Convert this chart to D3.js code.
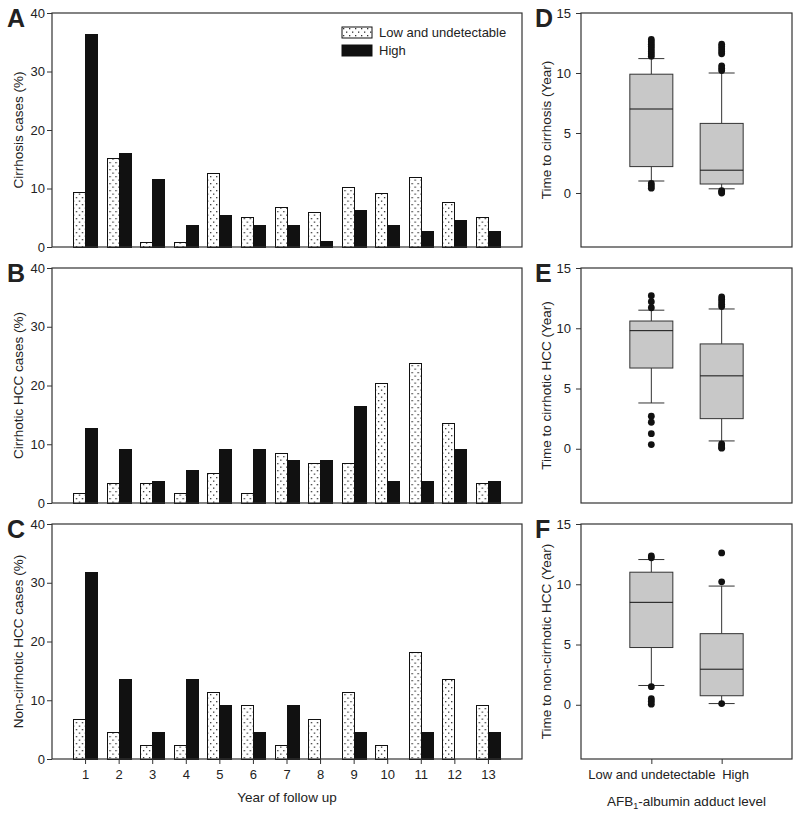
<!DOCTYPE html>
<html><head><meta charset="utf-8">
<script src="https://cdn.jsdelivr.net/npm/d3@7/dist/d3.min.js"></script>
<style>
body{margin:0;background:#fff}
text{font-family:"Liberation Sans",Arial,sans-serif;fill:#222}
</style></head>
<body><svg id="c" width="800" height="815"></svg>
<script>
// ---------- data ----------
const years = [1,2,3,4,5,6,7,8,9,10,11,12,13];
const seriesNames = ["Low and undetectable","High"];
const cirrhosisLow  = [9.3,15.1,0.8,0.8,12.6,5.0,6.7,5.9,10.1,9.2,11.8,7.6,5.0];
const cirrhosisHigh = [36.4,16.0,11.6,3.6,5.4,3.6,3.6,0.9,6.3,3.6,2.7,4.5,2.7];
const cirrHccLow    = [1.7,3.4,3.4,1.7,5.1,1.7,8.5,6.8,6.8,20.3,23.7,13.6,3.4];
const cirrHccHigh   = [12.7,9.1,3.6,5.5,9.1,9.1,7.3,7.3,16.4,3.6,3.6,9.1,3.6];
const nonCirrLow    = [6.8,4.5,2.3,2.3,11.4,9.1,2.3,6.8,11.4,2.3,18.2,13.6,9.1];
const nonCirrHigh   = [31.8,13.6,4.5,13.6,9.1,4.5,9.1,0,4.5,0,4.5,0,4.5];
const barTicks = [0,10,20,30,40];

const groups = ["Low and undetectable","High"];
// [lower whisker, Q1, median, Q3, upper whisker]
const boxCirrhosis = [[1.0,2.2,7.0,9.9,11.2],[0.35,0.75,1.9,5.8,10.0]];
const outCirrhosis = [[11.4,11.6,11.8,12.0,12.2,12.4,12.6,12.8,0.8,0.6,0.4],[10.2,10.4,10.6,11.6,11.8,12.0,12.2,12.4,0.2,0.1,0.0]];
const boxCirrHcc   = [[3.8,6.7,9.8,10.6,11.5],[0.65,2.5,6.05,8.7,11.6]];
const outCirrHcc   = [[11.7,12.2,12.7,2.7,2.2,1.25,0.35],[11.8,12.0,12.2,12.4,12.6,0.4,0.25,0.1,0.05]];
const boxNonCirr   = [[1.6,4.75,8.5,11.0,12.05],[0.1,0.75,2.95,5.9,9.85]];
const outNonCirr   = [[12.2,12.35,1.5,0.5,0.3,0.05],[12.6,10.2,0.1]];
const boxTicks = [0,5,10,15];

// ---------- drawing ----------
const svg = d3.select("#c");
const defs = svg.append("defs");
const pat = defs.append("pattern").attr("id","dots").attr("patternUnits","userSpaceOnUse")
  .attr("width",6).attr("height",7);
pat.append("rect").attr("width",6).attr("height",7).attr("fill","#fff");
pat.append("rect").attr("x",1).attr("y",1).attr("width",1.3).attr("height",1.3).attr("fill","#333");
pat.append("rect").attr("x",4).attr("y",4.5).attr("width",1.3).attr("height",1.3).attr("fill","#333");

const frameColor = "#333";
const barX0 = 52, barX1 = 522;
const x = d3.scaleBand().domain(years).range([barX0,barX1]).paddingInner(0).paddingOuter(0.5);
const sub = d3.scaleBand().domain(seriesNames).range([x.bandwidth()/2-12, x.bandwidth()/2+12]);

const barPanels = [
  {letter:"A", title:"Cirrhosis cases (%)", low:cirrhosisLow, high:cirrhosisHigh, top:13, bottom:247},
  {letter:"B", title:"Cirrhotic HCC cases (%)", low:cirrHccLow, high:cirrHccHigh, top:268, bottom:503},
  {letter:"C", title:"Non-cirrhotic HCC cases (%)", low:nonCirrLow, high:nonCirrHigh, top:524, bottom:759}
];

barPanels.forEach((p,i) => {
  const y = d3.scaleLinear().domain([0,40]).range([p.bottom,p.top]);
  const g = svg.append("g");
  const rows = years.map((yr,j) => ({yr, vals:[p.low[j], p.high[j]]}));
  const grp = g.selectAll("g.yr").data(rows).join("g").attr("transform", d => `translate(${x(d.yr)},0)`);
  grp.selectAll("rect").data(d => d.vals.map((v,k)=>({v, s:seriesNames[k]}))).join("rect")
    .attr("x", d => sub(d.s)).attr("width", sub.bandwidth())
    .attr("y", d => y(d.v)).attr("height", d => y(0)-y(d.v))
    .attr("fill", d => d.s===seriesNames[0] ? "url(#dots)" : "#111")
    .attr("stroke", d => d.v>0 ? "#111" : "none").attr("stroke-width",1)
    .attr("shape-rendering","crispEdges");
  // frame
  g.append("rect").attr("x",barX0).attr("y",p.top).attr("width",barX1-barX0).attr("height",p.bottom-p.top)
    .attr("fill","none").attr("stroke",frameColor).attr("stroke-width",1.2);
  const ax = g.append("g").attr("transform",`translate(${barX0},0)`)
    .call(d3.axisLeft(y).tickValues(barTicks).tickSize(5).tickPadding(2));
  ax.select(".domain").remove();
  ax.selectAll("line").attr("stroke",frameColor);
  ax.selectAll("text").attr("font-size",13).attr("fill","#222").attr("font-family","Liberation Sans, Arial, sans-serif");
  // y title
  svg.append("text").attr("transform",`translate(23,${(p.top+p.bottom)/2}) rotate(-90)`)
    .attr("text-anchor","middle").attr("font-size",13.5).text(p.title);
  // letter
  svg.append("text").attr("x",7).attr("y",p.top+14).attr("font-size",25).attr("font-weight","bold")
    .attr("fill","#111").text(p.letter);
  if (i === 2) {
    const xa = g.append("g").attr("transform",`translate(0,${p.bottom})`)
      .call(d3.axisBottom(x).tickSize(5).tickPadding(6));
    xa.select(".domain").remove();
    xa.selectAll("line").attr("stroke",frameColor);
    xa.selectAll("text").attr("font-size",13).attr("fill","#222").attr("font-family","Liberation Sans, Arial, sans-serif");
    svg.append("text").attr("x",(barX0+barX1)/2).attr("y",802).attr("text-anchor","middle")
      .attr("font-size",13.5).text("Year of follow up");
  }
  if (i === 0) {
    const lg = svg.append("g").attr("transform","translate(342,27)");
    seriesNames.forEach((s,k) => {
      lg.append("rect").attr("x",0).attr("y",k*18).attr("width",30).attr("height",11)
        .attr("fill", k===0 ? "url(#dots)" : "#111").attr("stroke","#111");
      lg.append("text").attr("x",37).attr("y",k*18+10).attr("font-size",13).text(s);
    });
  }
});

// box plots
const bx0 = 581, bx1 = 792;
const bxs = d3.scaleLinear().domain([0,3]).range([bx0,bx1]);
const boxW = 43, capW = 26;
const boxPanels = [
  {letter:"D", title:"Time to cirrhosis (Year)", box:boxCirrhosis, out:outCirrhosis, top:13, bottom:247},
  {letter:"E", title:"Time to cirrhotic HCC (Year)", box:boxCirrHcc, out:outCirrHcc, top:268, bottom:503},
  {letter:"F", title:"Time to non-cirrhotic HCC (Year)", box:boxNonCirr, out:outNonCirr, top:524, bottom:759}
];
boxPanels.forEach((p,i) => {
  const y = d3.scaleLinear().domain([-4.5,15]).range([p.bottom,p.top]);
  const g = svg.append("g");
  p.box.forEach((b,k) => {
    const cx = bxs(k+1);
    const wc = "#333";
    g.append("line").attr("x1",cx).attr("x2",cx).attr("y1",y(b[0])).attr("y2",y(b[1])).attr("stroke",wc);
    g.append("line").attr("x1",cx).attr("x2",cx).attr("y1",y(b[3])).attr("y2",y(b[4])).attr("stroke",wc);
    g.append("line").attr("x1",cx-capW/2).attr("x2",cx+capW/2).attr("y1",y(b[0])).attr("y2",y(b[0])).attr("stroke",wc);
    g.append("line").attr("x1",cx-capW/2).attr("x2",cx+capW/2).attr("y1",y(b[4])).attr("y2",y(b[4])).attr("stroke",wc);
    g.append("rect").attr("x",cx-boxW/2).attr("width",boxW).attr("y",y(b[3])).attr("height",y(b[1])-y(b[3]))
      .attr("fill","#c8c8c8").attr("stroke","#333");
    g.append("line").attr("x1",cx-boxW/2).attr("x2",cx+boxW/2).attr("y1",y(b[2])).attr("y2",y(b[2])).attr("stroke","#111");
    g.selectAll(null).data(p.out[k]).join("circle").attr("cx",cx).attr("cy",d=>y(d)).attr("r",3.4).attr("fill","#111");
  });
  g.append("rect").attr("x",bx0).attr("y",p.top).attr("width",bx1-bx0).attr("height",p.bottom-p.top)
    .attr("fill","none").attr("stroke",frameColor).attr("stroke-width",1.2);
  const ax = g.append("g").attr("transform",`translate(${bx0},0)`)
    .call(d3.axisLeft(y).tickValues(boxTicks).tickSize(5).tickPadding(5));
  ax.select(".domain").remove();
  ax.selectAll("line").attr("stroke",frameColor);
  ax.selectAll("text").attr("font-size",13).attr("fill","#222").attr("font-family","Liberation Sans, Arial, sans-serif");
  svg.append("text").attr("transform",`translate(551,${(p.top+p.bottom)/2}) rotate(-90)`)
    .attr("text-anchor","middle").attr("font-size",13.5).text(p.title);
  svg.append("text").attr("x",535).attr("y",p.top+14).attr("font-size",25).attr("font-weight","bold")
    .attr("fill","#111").text(p.letter);
  if (i === 2) {
    const xa = g.append("g").attr("transform",`translate(0,${p.bottom})`)
      .call(d3.axisBottom(bxs).tickValues([1,2]).tickFormat(d => groups[d-1]).tickSize(5).tickPadding(6));
    xa.select(".domain").remove();
    xa.selectAll("line").attr("stroke",frameColor);
    xa.selectAll("text").attr("font-size",13).attr("fill","#222").attr("font-family","Liberation Sans, Arial, sans-serif");
    xa.selectAll(".tick").filter(d => d===2).select("text").attr("text-anchor","start").attr("x",0);
    const t = svg.append("text").attr("x",(bx0+bx1)/2).attr("y",806).attr("text-anchor","middle").attr("font-size",13.5);
    t.append("tspan").text("AFB");
    t.append("tspan").attr("font-size",9).attr("dy",3).text("1");
    t.append("tspan").attr("dy",-3).text("-albumin adduct level");
  }
});
</script></body></html>
